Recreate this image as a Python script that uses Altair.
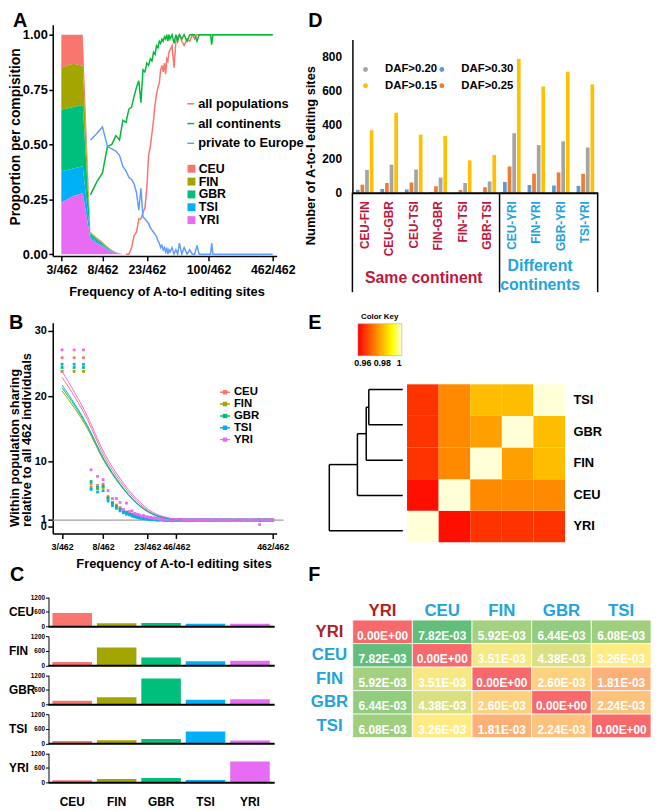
import altair as alt
import pandas as pd

W, H = 651, 803
FONT = "Liberation Sans"


def cx(p):
    return p - 8


def off_left(p):
    return -(p - 8)


def off_bottom(p):
    return (p - 8) - H


def off_right(p):
    return (p - 8) - W


def off_top(p):
    return -(p - 8)


# ---------------- shared ----------------
pops = ["CEU", "FIN", "GBR", "TSI", "YRI"]
pop_colors = ["#F8766D", "#A3A500", "#00BF7D", "#00B0F6", "#E76BF3"]

# ---------------- Panel A data ----------------
area_freq = [3, 4, 5, 6, 7, 8, 9, 10, 11, 12, 13]
area_CEU = [0.150, 0.132, 0.142, 0.004, 0.004, 0.005, 0.003, 0.002, 0.001, 0.001, 0.0]
area_FIN = [0.192, 0.198, 0.178, 0.004, 0.004, 0.004, 0.003, 0.002, 0.001, 0.0, 0.0]
area_GBR = [0.280, 0.280, 0.280, 0.012, 0.010, 0.008, 0.006, 0.003, 0.002, 0.001, 0.0]
area_TSI = [0.143, 0.125, 0.123, 0.012, 0.008, 0.005, 0.003, 0.002, 0.001, 0.0, 0.0]
area_YRI = [0.235, 0.265, 0.277, 0.070, 0.050, 0.035, 0.020, 0.010, 0.005, 0.002, 0.0]

line_freq = [6, 7, 8, 9, 10, 11, 12, 13, 14, 15, 16, 17, 18, 19, 20, 21, 22, 23, 24, 25,
             26, 27, 28, 29, 30, 31, 32, 33, 34, 35, 36, 37, 38, 39, 40,
             42, 44, 46, 48, 50, 53, 56, 60, 64, 68,
             72, 76, 80, 90, 100, 105, 108, 111, 130, 160, 200, 260, 330, 400, 462]
all_continents = [0.27, 0.33, 0.37, 0.49, 0.50, 0.54, 0.52, 0.61, 0.60, 0.66, 0.67, 0.72, 0.76, 0.79, 0.69,
                  0.84, 0.83, 0.87, 0.86, 0.89, 0.88, 0.92, 0.91, 0.95, 0.94, 0.97, 0.96, 0.98, 0.97, 0.99,
                  0.98, 1.0, 0.97, 1.0, 0.98,
                  1.0, 0.96, 1.0, 0.97, 1.0, 0.98, 1.0, 0.97, 1.0, 1.0,
                  1.0, 0.97, 1.0, 1.0, 1.0, 1.0, 0.955, 1.0, 1.0, 1.0, 1.0, 1.0, 1.0, 1.0, 1.0]
all_populations = [None, None, None, None, None, None, None, None, 0.0, 0.0, 0.03, 0.085, 0.10, 0.16, 0.16,
                   0.19, 0.21, 0.30, 0.45, 0.49, 0.55, 0.61, 0.68, 0.73, 0.76, 0.78, 0.84, 0.86, 0.83, 0.87,
                   0.82, 0.89, 0.88, 0.92, 0.93,
                   0.95, 0.85, 0.97, 0.99, 1.0, 0.97, 0.95, 0.98, 0.97, 1.0,
                   0.98, 1.0, 1.0, 1.0, 1.0, 1.0, 1.0, 1.0, 1.0, 1.0, 1.0, 1.0, 1.0, 1.0, 1.0]
private_europe = [0.52, 0.55, 0.58, 0.49, 0.48, 0.47, 0.45, 0.40, 0.38, 0.35, 0.34, 0.32, 0.28, 0.20, 0.30,
                  0.17, 0.16, 0.15, 0.14, 0.12, 0.11, 0.10, 0.09, 0.08, 0.06, 0.05, 0.03, 0.04, 0.02, 0.03,
                  0.01, 0.03, 0.0, 0.02, 0.01,
                  0.03, 0.0, 0.02, 0.0, 0.05, 0.0, 0.03, 0.0, 0.02, 0.0,
                  0.0, 0.04, 0.0, 0.0, 0.0, 0.0, 0.05, 0.0, 0.0, 0.0, 0.0, 0.0, 0.0, 0.0, 0.0]
line_names = ["all populations", "all continents", "private to Europe"]
line_colors = ["#F8766D", "#00BA38", "#619CFF"]

# ---------------- Panel B data ----------------
B_freq = [3, 4, 5, 6, 7, 8, 9, 10, 11, 12, 13, 14, 15, 16, 17, 18, 19, 20, 21, 22, 23, 24, 25, 26, 27, 28, 29, 30,
          31, 32, 33, 34, 35, 36, 37, 38, 40, 42, 44, 46, 48, 51, 54, 57, 60, 64, 68, 72, 77, 82, 88, 94, 100,
          108, 116, 125, 135, 146, 158, 170, 184, 200, 216, 234, 254, 275, 298, 322, 337, 350, 380, 410, 440, 462]
B_YRI = [27.1, 27.1, 27.1, 8.7, 7.7, 7.2, 5.5, 4.3, 4.3, 3.7, 2.6, 3.6, 2.3, 2.4, 2.0, 1.9, 1.8, 1.6, 1.7, 1.5,
         1.5, 1.4, 1.4, 1.3, 1.35, 1.25, 1.3, 1.2,
         1.18, 1.15, 1.2, 1.12, 1.1, 1.15, 1.08, 1.12, 1.1, 1.06, 1.1, 1.05, 1.08, 1.04, 1.07, 1.03, 1.06, 1.02,
         1.05, 1.08, 1.03, 1.0, 1.06, 1.02, 1.04, 1.07, 1.0, 1.03, 1.05, 1.01, 1.06, 1.02, 1.0, 1.04, 1.07, 1.02,
         1.0, 1.05, 1.03, 1.01, 0.3, 1.04, 1.06, 1.0, 1.03, 1.0]
B_CEU = [25.9, 25.9, 25.9, 6.5, 6.3, 6.5, 4.6, 3.7, 3.3, 2.9, 2.5, 2.2, 2.1, 1.9, 1.7, 1.6, 1.5, 1.45, 1.4, 1.35,
         1.3, 1.25, 1.25, 1.2, 1.2, 1.15, 1.15, 1.1,
         1.1, 1.08, 1.06, 1.08, 1.05, 1.04, 1.06, 1.02, 1.04, 1.0, 1.03, 1.01, 0.98, 1.02, 1.0, 1.03, 0.99, 1.01,
         0.97, 1.02, 1.0, 1.03, 0.98, 1.0, 1.02, 0.97, 1.01, 1.0, 0.98, 1.03, 1.0, 0.97, 1.02, 0.99, 1.0, 1.02,
         0.96, 1.0, 1.01, 0.98, 1.0, 0.96, 1.02, 0.99, 1.0, 0.98]
B_FIN = [23.8, 23.8, 23.8, 6.0, 5.8, 6.0, 4.3, 3.5, 3.0, 2.6, 2.3, 2.1, 1.9, 1.8, 1.6, 1.5, 1.45, 1.4, 1.3, 1.3,
         1.25, 1.2, 1.2, 1.15, 1.15, 1.1, 1.1, 1.1,
         1.06, 1.08, 1.04, 1.05, 1.02, 1.05, 1.01, 1.03, 1.0, 1.02, 0.98, 1.01, 1.03, 0.99, 1.0, 0.97, 1.02, 1.0,
         1.03, 0.98, 1.0, 1.01, 0.97, 1.02, 0.99, 1.0, 1.03, 0.98, 1.01, 1.0, 0.97, 1.02, 1.0, 0.98, 1.03, 0.99,
         1.0, 1.02, 0.97, 1.0, 1.01, 0.99, 1.0, 1.02, 0.98, 1.0]
B_GBR = [24.4, 24.4, 24.4, 6.9, 6.0, 6.2, 4.4, 3.6, 3.1, 2.7, 2.4, 2.2, 2.0, 1.8, 1.7, 1.55, 1.5, 1.4, 1.35, 1.3,
         1.25, 1.2, 1.2, 1.15, 1.15, 1.1, 1.1, 1.05,
         1.07, 1.05, 1.06, 1.03, 1.04, 1.02, 1.05, 1.0, 1.03, 1.01, 1.0, 0.98, 1.02, 1.0, 1.03, 0.99, 1.0, 1.02,
         0.98, 1.01, 1.03, 0.99, 1.0, 0.97, 1.02, 1.0, 0.98, 1.03, 1.0, 0.99, 1.02, 1.0, 0.97, 1.01, 1.0, 1.03,
         0.98, 1.0, 1.02, 0.99, 1.0, 1.01, 0.97, 1.0, 1.02, 0.99]
B_TSI = [24.9, 24.9, 24.9, 5.7, 5.3, 5.5, 3.9, 3.2, 2.8, 2.4, 2.1, 1.9, 1.8, 1.6, 1.5, 1.4, 1.3, 1.25, 1.2, 1.2,
         1.15, 1.1, 1.1, 1.1, 1.05, 1.05, 1.0, 1.0,
         1.03, 1.05, 1.02, 1.03, 1.0, 1.02, 0.99, 1.01, 0.98, 1.0, 1.02, 0.97, 1.0, 1.01, 0.98, 1.0, 1.03, 0.97,
         1.0, 0.99, 1.02, 0.98, 1.0, 1.03, 0.97, 1.0, 1.01, 0.99, 1.0, 0.97, 1.02, 1.0, 0.99, 1.03, 0.98, 1.0,
         1.01, 0.97, 1.0, 1.02, 0.98, 1.0, 1.03, 0.99, 1.0, 0.98]

curve_freq = [3, 5.5, 8.2, 12.1, 17.9, 26.2, 39, 52]
curve_CEU = [22.9, 16.4, 10.8, 6.9, 3.9, 2.0, 1.25, 1.0]
curve_FIN = [20.8, 15.0, 10.0, 6.3, 3.5, 1.85, 1.2, 1.0]
curve_GBR = [21.3, 15.3, 10.2, 6.4, 3.6, 1.9, 1.2, 1.0]
curve_TSI = [21.7, 15.5, 10.3, 6.5, 3.6, 1.9, 1.2, 1.0]
curve_YRI = [23.8, 16.9, 11.3, 7.3, 4.2, 2.2, 1.3, 1.0]

# ---------------- Panel C data ----------------
C_CEU = [550, 124, 137, 110, 110]
C_FIN = [139, 735, 327, 163, 192]
C_GBR = [145, 292, 1067, 187, 213]
C_TSI = [100, 130, 180, 485, 120]
C_YRI = [90, 140, 180, 100, 862]

# ---------------- Panel D data ----------------
pairs = ["CEU-FIN", "CEU-GBR", "CEU-TSI", "FIN-GBR", "FIN-TSI", "GBR-TSI",
         "CEU-YRI", "FIN-YRI", "GBR-YRI", "TSI-YRI"]
daf030 = [17, 22, 19, 4, 2, 2, 63, 45, 42, 40]
daf025 = [47, 57, 60, 38, 16, 32, 154, 112, 119, 111]
daf020 = [134, 165, 136, 89, 57, 66, 350, 280, 302, 266]
daf015 = [367, 470, 341, 333, 190, 222, 786, 624, 711, 637]
thr_order = ["DAF>0.30", "DAF>0.25", "DAF>0.20", "DAF>0.15"]
thr_colors = ["#5B9BD5", "#ED7D31", "#A5A5A5", "#FFC000"]
legend_col1 = ["DAF>0.20", "DAF>0.15"]
legend_col1_colors = ["#A5A5A5", "#FFC000"]
legend_col2 = ["DAF>0.30", "DAF>0.25"]
legend_col2_colors = ["#5B9BD5", "#ED7D31"]

# ---------------- Panel E data ----------------
E_cols = ["YRI", "CEU", "FIN", "GBR", "TSI"]
E_rows = ["TSI", "GBR", "FIN", "CEU", "YRI"]
corr_YRI = [1.0, 0.957, 0.962, 0.962, 0.962]
corr_CEU = [0.957, 1.0, 0.974, 0.974, 0.974]
corr_FIN = [0.962, 0.974, 1.0, 0.977, 0.981]
corr_GBR = [0.962, 0.974, 0.977, 1.0, 0.981]
corr_TSI = [0.962, 0.974, 0.981, 0.981, 1.0]
dend_left = ["TSI", "TSI+GBR", "TSI+GBR+FIN", "TSI+GBR+FIN+CEU"]
dend_right = ["GBR", "FIN", "CEU", "YRI"]
dend_height = [0.0185, 0.0199, 0.0247, 0.0400]

# ---------------- Panel F data ----------------
F_labels = ["YRI", "CEU", "FIN", "GBR", "TSI"]
fst_YRI = [0.0, 7.82e-3, 5.92e-3, 6.44e-3, 6.08e-3]
fst_CEU = [7.82e-3, 0.0, 3.51e-3, 4.38e-3, 3.26e-3]
fst_FIN = [5.92e-3, 3.51e-3, 0.0, 2.60e-3, 1.81e-3]
fst_GBR = [6.44e-3, 4.38e-3, 2.60e-3, 0.0, 2.24e-3]
fst_TSI = [6.08e-3, 3.26e-3, 1.81e-3, 2.24e-3, 0.0]

RED = "#C0183C"
BLUE = "#22A3DD"

layers = []

# ======================= Panel A =======================
xA = alt.Scale(type="log", domain=[2.445, 507.6], range=[cx(53.3), cx(280)])
yA = alt.Scale(domain=[-0.008, 1.045], range=[cx(254), cx(20)], nice=False, zero=False)

rows = []
for pop, vals, o in zip(pops, [area_CEU, area_FIN, area_GBR, area_TSI, area_YRI], [4, 3, 2, 1, 0]):
    for f, v in zip(area_freq, vals):
        rows.append({"freq": f, "pop": pop, "prop": v, "ord": o})
dfA_area = pd.DataFrame(rows)

axA_x = alt.Axis(orient="bottom", offset=off_bottom(254), values=[3, 8, 23, 100, 462],
                 labelExpr="datum.value + '/462'", tickSize=5, tickWidth=1.5, domainWidth=1.5,
                 labelPadding=3, labelFontSize=12.5, labelFlush=False, labelOverlap=False,
                 title="Frequency of A-to-I editing sites", titleFontSize=13,
                 titleX=cx(168.5), titleY=290 - 254, titleAlign="center", titleBaseline="middle")
axA_y = alt.Axis(orient="left", offset=off_left(53.3), values=[0, 0.25, 0.5, 0.75, 1.0], format=".2f",
                 tickSize=4, tickWidth=1.5, domainWidth=1.5, labelPadding=1.5, labelFontSize=13,
                 labelFlush=False, labelOverlap=False,
                 title="Proportion per compisition", titleFontSize=14, titleAngle=270,
                 titleX=15.5 - 53.3, titleY=cx(133), titleAlign="center", titleBaseline="middle")

areaA = alt.Chart(dfA_area).mark_area(interpolate="linear", opacity=1).encode(
    x=alt.X("freq:Q", scale=xA, axis=axA_x),
    y=alt.Y("prop:Q", stack="zero", scale=yA, axis=axA_y),
    color=alt.Color("pop:N", scale=alt.Scale(domain=pops, range=pop_colors),
                    legend=alt.Legend(title=None, orient="none", legendX=cx(187.5), legendY=cx(159.5),
                                      symbolType="square", symbolSize=64, symbolStrokeWidth=0,
                                      labelFontSize=12.5, labelOffset=1, rowPadding=0, padding=0)),
    order=alt.Order("ord:Q", sort="ascending"),
)
layers.append(areaA)

rows = []
for name, vals in zip(line_names, [all_populations, all_continents, private_europe]):
    for f, v in zip(line_freq, vals):
        if v is not None:
            rows.append({"freq": f, "series": name, "prop": v})
dfA_lines = pd.DataFrame(rows)
linesA = alt.Chart(dfA_lines).mark_line(strokeWidth=1.5).encode(
    x=alt.X("freq:Q", scale=xA, axis=None),
    y=alt.Y("prop:Q", scale=yA, axis=None),
    color=alt.Color("series:N", scale=alt.Scale(domain=line_names, range=line_colors),
                    legend=alt.Legend(title=None, orient="none", legendX=cx(186.5), legendY=cx(93.5),
                                      symbolType="stroke", symbolSize=49, symbolStrokeWidth=1.5,
                                      labelFontSize=13, labelOffset=1, rowPadding=6, padding=0)),
)
layers.append(linesA)

# ======================= Panel B =======================
xB = alt.Scale(type="log", domain=[2.398, 507.7], range=[cx(53.3), cx(280)])
yB = alt.Scale(domain=[-1.06, 31.26], range=[cx(535), cx(321.7)], nice=False, zero=False)

rows = []
for pop, vals in zip(pops, [B_CEU, B_FIN, B_GBR, B_TSI, B_YRI]):
    for f, v in zip(B_freq, vals):
        rows.append({"freq": f, "pop": pop, "ratio": v})
dfB_pts = pd.DataFrame(rows)

axB_x = alt.Axis(orient="bottom", offset=off_bottom(535), values=[3, 8, 23, 46, 462],
                 labelExpr="datum.value + '/462'", tickSize=5, tickWidth=1.5, domainWidth=1.5,
                 labelPadding=4, labelFontSize=9, labelFlush=False, labelOverlap=False,
                 title="Frequency of A-to-I editing sites", titleFontSize=13,
                 titleX=cx(175.7), titleY=565 - 535, titleAlign="center", titleBaseline="middle")
axB_y = alt.Axis(orient="left", offset=off_left(53.3), values=[0, 1, 10, 20, 30],
                 tickSize=5, tickWidth=1.5, domainWidth=1.5, labelPadding=1.5, labelFontSize=11,
                 labelFlush=False, labelOverlap=False,
                 title=["Within population sharing", "relative to all 462 individuals"],
                 titleFontSize=13, titleLineHeight=12.5, titleAngle=270,
                 titleX=8.5 - 53.3, titleY=cx(528), titleAlign="left", titleBaseline="top")

ruleB = alt.Chart(pd.DataFrame({"k": [0]})).mark_rule(color="#A0A0A0", strokeWidth=1.3).encode(
    x=alt.X(datum=2.4, type="quantitative", scale=xB, axis=None),
    x2=alt.X2(datum=599),
    y=alt.Y(datum=1, type="quantitative", scale=yB, axis=None),
)
layers.append(ruleB)

ptsB = alt.Chart(dfB_pts).mark_square(size=8, opacity=1).encode(
    x=alt.X("freq:Q", scale=xB, axis=axB_x),
    y=alt.Y("ratio:Q", scale=yB, axis=axB_y),
    color=alt.Color("pop:N", scale=alt.Scale(domain=pops, range=pop_colors), legend=None),
)
layers.append(ptsB)

rows = []
for pop, vals in zip(pops, [curve_CEU, curve_FIN, curve_GBR, curve_TSI, curve_YRI]):
    for f, v in zip(curve_freq, vals):
        rows.append({"freq": f, "pop": pop, "ratio": v})
dfB_cur = pd.DataFrame(rows)
curB = alt.Chart(dfB_cur).mark_line(strokeWidth=1, interpolate="monotone").encode(
    x=alt.X("freq:Q", scale=xB, axis=None),
    y=alt.Y("ratio:Q", scale=yB, axis=None),
    color=alt.Color("pop:N", scale=alt.Scale(domain=pops, range=pop_colors),
                    legend=alt.Legend(title=None, orient="none", legendX=cx(221.7), legendY=cx(386),
                                      symbolType="M-1,0H1M-0.3,-0.3H0.3V0.3H-0.3Z", symbolSize=100,
                                      symbolStrokeWidth=1.5, labelFontSize=11.5, labelOffset=3,
                                      rowPadding=0, padding=0)),
)
layers.append(curB)

# ======================= Panel C =======================
xC = alt.Scale(domain=pops, range=[cx(48.5), cx(277.5)], paddingInner=0.11, paddingOuter=0.1)
for i, (rname, vals) in enumerate(zip(pops, [C_CEU, C_FIN, C_GBR, C_TSI, C_YRI])):
    zero = 629 + i * 39.5
    top = zero - 29.5
    yC = alt.Scale(domain=[0, 1200], range=[cx(zero), cx(top)], nice=False, zero=True)
    dfc = pd.DataFrame({"target": pops, "count": vals})
    ax_x = alt.Axis(orient="bottom", offset=off_bottom(zero), labels=(i == 4), ticks=False,
                    domainWidth=2, title=None, labelFontSize=12, labelPadding=14, labelAngle=0,
                    zindex=1)
    ax_y = alt.Axis(orient="left", offset=off_left(49), values=[0, 600, 1200], format="d", tickSize=3,
                    labelFontSize=6.5, labelPadding=1, domainWidth=1, labelFlush=False,
                    labelOverlap=False, title=rname, titleAngle=0, titleX=8.5 - 49,
                    titleY=cx(zero - 14.75), titleAlign="left", titleBaseline="middle",
                    titleFontSize=12)
    barC = alt.Chart(dfc).mark_bar().encode(
        x=alt.X("target:N", scale=xC, axis=ax_x, sort=pops),
        y=alt.Y("count:Q", scale=yC, axis=ax_y),
        color=alt.Color("target:N", scale=alt.Scale(domain=pops, range=pop_colors), legend=None),
    )
    layers.append(barC)

# ======================= Panel D =======================
xD = alt.Scale(domain=pairs, range=[cx(356.7), cx(605)], paddingInner=0, paddingOuter=0)
yD = alt.Scale(domain=[0, 900], range=[cx(190), cx(35)], nice=False, zero=True)
rows = []
for thr, vals in zip(thr_order, [daf030, daf025, daf020, daf015]):
    for p, v in zip(pairs, vals):
        rows.append({"pair": p, "thr": thr, "n": v})
dfD = pd.DataFrame(rows)

axD_x = alt.Axis(orient="bottom", offset=off_bottom(190), ticks=False, domainWidth=2, labelAngle=270,
                 labelAlign="right", labelBaseline="middle", labelPadding=8, labelFontSize=12,
                 labelColor={"condition": {"test": "indexof(datum.value, 'YRI') >= 0", "value": BLUE},
                             "value": RED},
                 title=None, zindex=1)
axD_y = alt.Axis(orient="left", offset=off_left(356.7), values=[0, 200, 400, 600, 800], ticks=False,
                 domainWidth=1.5, labelPadding=11, labelFontSize=12, labelFlush=False,
                 labelOverlap=False, title="Number of A-to-I editing sites", titleFontSize=13,
                 titleAngle=270, titleX=314 - 356.7, titleY=cx(152), titleAlign="center",
                 titleBaseline="middle")
barD = alt.Chart(dfD).mark_bar().encode(
    x=alt.X("pair:N", scale=xD, axis=axD_x, sort=pairs),
    xOffset=alt.XOffset("thr:N", scale=alt.Scale(domain=thr_order, paddingInner=0.2, paddingOuter=0.75)),
    y=alt.Y("n:Q", scale=yD, axis=axD_y),
    color=alt.Color("thr:N", scale=alt.Scale(domain=thr_order, range=thr_colors), legend=None),
)
layers.append(barD)

# legend for D in two columns (two single-column legends)
for dom, cols, lx in [(legend_col1, legend_col1_colors, 364.2), (legend_col2, legend_col2_colors, 441.5)]:
    leg = alt.Chart(pd.DataFrame({"thr": dom})).mark_point(opacity=0, filled=True).encode(
        x=alt.value(0), y=alt.value(0),
        color=alt.Color("thr:N", scale=alt.Scale(domain=dom, range=cols),
                        legend=alt.Legend(title=None, orient="none", legendX=cx(lx), legendY=cx(59.5),
                                          symbolType="circle", symbolSize=25, symbolOpacity=1,
                                          symbolStrokeWidth=0, labelOffset=14, rowPadding=3.5,
                                          labelFontSize=11.5, padding=0)),
    )
    layers.append(leg)

for pname, bp in [("CEU-FIN", 0), ("CEU-YRI", 0), ("TSI-YRI", 1)]:
    r = alt.Chart(pd.DataFrame({"pair": [pname]})).mark_rule(color="black", strokeWidth=1.5).encode(
        x=alt.X("pair:N", scale=xD, axis=None, bandPosition=bp),
        y=alt.Y(datum=0, type="quantitative", scale=yD, axis=None),
        y2=alt.Y2(datum=-585),
    )
    layers.append(r)

layers.append(alt.Chart().mark_text(text="Same continent", color=RED, fontSize=16, fontWeight="bold",
                                    font=FONT, align="center", baseline="middle").encode(
    x=alt.value(cx(429)), y=alt.value(cx(276))))
layers.append(alt.Chart().mark_text(text="Different", color=BLUE, fontSize=16, fontWeight="bold",
                                    font=FONT, align="center", baseline="middle").encode(
    x=alt.value(cx(546.7)), y=alt.value(cx(264))))
layers.append(alt.Chart().mark_text(text="continents", color=BLUE, fontSize=16, fontWeight="bold",
                                    font=FONT, align="center", baseline="middle").encode(
    x=alt.value(cx(546.7)), y=alt.value(cx(284))))

# ======================= Panel E =======================
rows = []
for rname, vals in zip(["YRI", "CEU", "FIN", "GBR", "TSI"], [corr_YRI, corr_CEU, corr_FIN, corr_GBR, corr_TSI]):
    for cname, v in zip(E_cols, vals):
        rows.append({"row": rname, "col": cname, "r": v})
dfE = pd.DataFrame(rows)
xE = alt.Scale(domain=E_cols, range=[cx(412), cx(572)], paddingInner=0, paddingOuter=0)
yE = alt.Scale(domain=E_rows, range=[cx(384), cx(544)], paddingInner=0, paddingOuter=0)
heatE = alt.Chart(dfE).mark_rect().encode(
    x=alt.X("col:N", scale=xE, axis=None, sort=E_cols),
    y=alt.Y("row:N", scale=yE, sort=E_rows,
            axis=alt.Axis(orient="right", offset=off_right(572), ticks=False, tickSize=0, domain=False,
                          labelPadding=8, labelFontSize=13, title=None)),
    color=alt.Color("r:Q", scale=alt.Scale(domain=[0.955, 0.99, 1.0],
                                           range=["#FF0000", "#FFFF00", "#FFFFD8"], interpolate="rgb"),
                    legend=alt.Legend(title="Color Key", orient="none", legendX=cx(362.3), legendY=cx(311.7),
                                      direction="horizontal", gradientLength=44.4, gradientThickness=32.3,
                                      titleFontSize=8, titleAnchor="middle", titlePadding=3,
                                      labelFontSize=9, labelOffset=3, values=[0.96, 0.98, 1.0],
                                      format=".2~f", labelOverlap=False,
                                      gradientStrokeColor="#999999", gradientStrokeWidth=0.5, padding=0)),
)
layers.append(heatE)

# dendrogram segments derived from merge heights
node_pos = {name: i for i, name in enumerate(E_rows)}
node_h = {name: 0.0 for name in E_rows}
seg = []
for left, right, h in zip(dend_left, dend_right, dend_height):
    pl, pr = node_pos[left], node_pos[right]
    seg.append({"x1": node_h[left], "x2": h, "y1": pl, "y2": pl})
    seg.append({"x1": node_h[right], "x2": h, "y1": pr, "y2": pr})
    seg.append({"x1": h, "x2": h, "y1": pl, "y2": pr})
    new = left + "+" + right
    node_pos[new] = (pl + pr) / 2
    node_h[new] = h
dfSeg = pd.DataFrame(seg)
xDen = alt.Scale(domain=[0, 0.04], range=[cx(407.7), cx(333.3)], nice=False, zero=False)
yDen = alt.Scale(domain=[0, 4], range=[cx(389.3), cx(532.3)], nice=False, zero=False)
dend = alt.Chart(dfSeg).mark_rule(color="black", strokeWidth=1.5).encode(
    x=alt.X("x1:Q", scale=xDen, axis=None), x2="x2:Q",
    y=alt.Y("y1:Q", scale=yDen, axis=None), y2="y2:Q",
)
layers.append(dend)

# ======================= Panel F =======================
rows = []
for rname, vals in zip(F_labels, [fst_YRI, fst_CEU, fst_FIN, fst_GBR, fst_TSI]):
    for cname, v in zip(F_labels, vals):
        rows.append({"row": rname, "col": cname, "d": v, "lab": "%.2E" % v})
dfF = pd.DataFrame(rows)
xF = alt.Scale(domain=F_labels, range=[cx(357), cx(659)], paddingInner=0, paddingOuter=0)
yF = alt.Scale(domain=F_labels, range=[cx(622.7), cx(741.7)], paddingInner=0, paddingOuter=0)
lab_cond = {"condition": {"test": "datum.value == 'YRI'", "value": "#B01E22"}, "value": BLUE}
cellF = alt.Chart(dfF).mark_rect(stroke="white", strokeWidth=0.8).encode(
    x=alt.X("col:N", scale=xF, sort=F_labels,
            axis=alt.Axis(orient="top", offset=off_top(622.7), ticks=False, tickSize=0, domain=False,
                          labelFontSize=17, labelPadding=1, labelAngle=0, labelColor=lab_cond, title=None)),
    y=alt.Y("row:N", scale=yF, sort=F_labels,
            axis=alt.Axis(orient="left", offset=off_left(357), ticks=False, tickSize=0, domain=False,
                          labelFontSize=17, labelPadding=24, labelAlign="center", labelBaseline="middle",
                          labelColor=lab_cond, title=None)),
    color=alt.Color("d:Q", scale=alt.Scale(domain=[0, 0.00326, 0.00782],
                                           range=["#F8696B", "#FFEB84", "#63BE7B"], interpolate="rgb"),
                    legend=None),
)
layers.append(cellF)
textF = alt.Chart(dfF).mark_text(color="white", fontSize=12, fontWeight="bold", font=FONT, dy=4).encode(
    x=alt.X("col:N", scale=xF, sort=F_labels, axis=None),
    y=alt.Y("row:N", scale=yF, sort=F_labels, axis=None),
    text="lab:N",
)
layers.append(textF)

# ======================= panel letters =======================
for letter, lx, ly in [("A", 13, 16), ("B", 9, 322), ("C", 10, 577),
                       ("D", 312, 16), ("E", 312, 322), ("F", 312, 577)]:
    layers.append(alt.Chart().mark_text(text=letter, fontSize=20, fontWeight="bold", font=FONT,
                                        align="left", baseline="middle", color="black").encode(
        x=alt.value(cx(lx)), y=alt.value(cx(ly))))

chart = alt.layer(*layers).resolve_scale(
    x="independent", y="independent", color="independent", xOffset="independent"
).resolve_axis(x="independent", y="independent").resolve_legend(color="independent").properties(
    width=W, height=H, autosize=alt.AutoSizeParams(type="none"), padding=0
).configure_view(stroke=None).configure_axis(
    labelFont=FONT, titleFont=FONT, labelFontWeight="bold", titleFontWeight="bold",
    labelColor="black", titleColor="black", domainColor="black", tickColor="black", grid=False
).configure_legend(
    labelFont=FONT, titleFont=FONT, labelFontWeight="bold", titleFontWeight="bold",
    labelColor="black", titleColor="black"
)

chart.save("out.html", embed_options={"renderer": "svg", "actions": False})
